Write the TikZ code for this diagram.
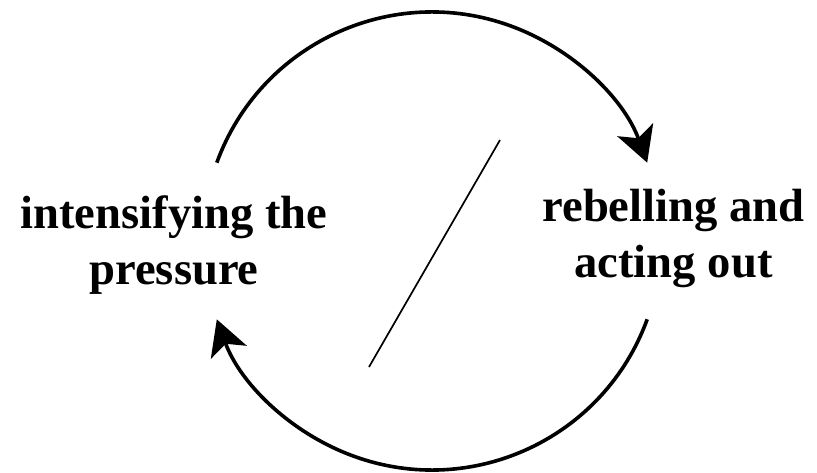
\documentclass[tikz,border=0pt]{standalone}
\usepackage{fontspec}
\setmainfont{Liberation Serif}
\usetikzlibrary{arrows.meta}
\tikzset{
  label/.style={align=center, font=\fontsize{46.6}{56}\selectfont\bfseries, inner sep=0pt, anchor=base},
  cycarrow/.style={line width=3.6pt, -{Stealth[length=35pt,width=38pt,inset=9pt]}},
  slash/.style={line width=1.7pt}
}
\begin{document}
\begin{tikzpicture}[x=1pt,y=1pt]
\useasboundingbox (0,0) rectangle (817,472);
\coordinate (c) at (432,231);
\node[label] (left) at (174,187) {intensifying the\\pressure};
\node[label] (right) at (673.5,194) {rebelling and\\acting out};
\draw[cycarrow] (c) ++(160:229) arc[start angle=160,end angle=20,radius=229];
\draw[cycarrow] (c) ++(-20:229) arc[start angle=-20,end angle=-160,radius=229];
\coordinate (s1) at (500,332);
\coordinate (s2) at (369,105);
\draw[slash] (s1) -- (s2);
\end{tikzpicture}
\end{document}
